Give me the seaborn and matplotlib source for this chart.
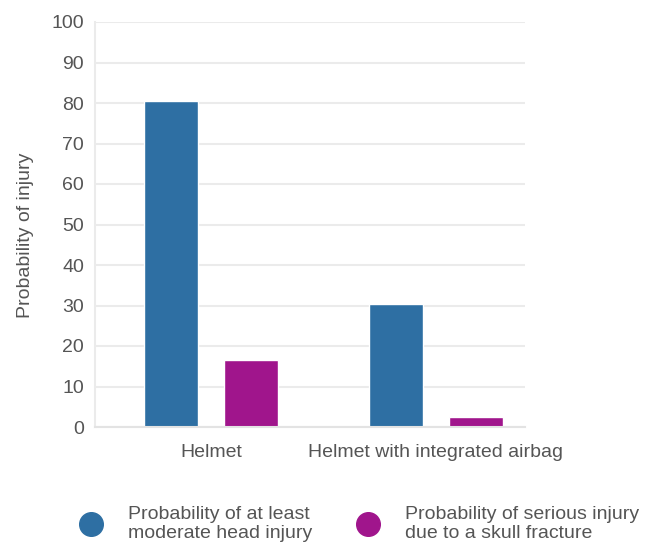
import matplotlib
matplotlib.use("Agg")
import matplotlib.pyplot as plt
from matplotlib.lines import Line2D
import seaborn as sns
import pandas as pd

categories = ["Helmet", "Helmet with integrated airbag"]
series_names = ["Probability of at least\nmoderate head injury",
                "Probability of serious injury\ndue to a skull fracture"]
moderate_head = [80.5, 30.4]
skull_fracture = [16.5, 2.5]
colors = ["#2E6FA3", "#A0158C"]

df = pd.DataFrame({
    "category": categories * 2,
    "series": [series_names[0]] * 2 + [series_names[1]] * 2,
    "value": moderate_head + skull_fracture,
})

sns.set_style("white")
plt.rcParams["font.family"] = ["Liberation Sans", "DejaVu Sans"]
text_color = "#555555"

fig = plt.figure(figsize=(6.51, 5.44), dpi=100)
ax = fig.add_axes([95 / 651, 1 - 427 / 544, 430 / 651, 405 / 544])

sns.barplot(data=df, x="category", y="value", hue="series",
            palette=colors, width=0.711, gap=0.325, saturation=1,
            legend=False, ax=ax)

ax.set_xlim(-0.516, 1.396)
ax.set_ylim(0, 100)
ax.set_yticks(range(0, 101, 10))
ax.yaxis.grid(True, color="#ebebeb", linewidth=1.5)
ax.set_axisbelow(True)
for s in ["top", "right"]:
    ax.spines[s].set_visible(False)
ax.spines["left"].set_color("#ebebeb")
ax.spines["left"].set_linewidth(1.5)
ax.spines["bottom"].set_color("#e3e3e3")
ax.spines["bottom"].set_linewidth(1.5)
ax.tick_params(axis="y", length=0, labelsize=14, colors=text_color, pad=8)
ax.tick_params(axis="x", length=0, labelsize=14, colors=text_color, pad=12)
ax.set_xlabel("")
ax.set_ylabel("Probability of injury", fontsize=14, color=text_color)
ax.yaxis.set_label_coords(-0.141, 0.474)

for i, name in enumerate(series_names):
    h = Line2D([], [], marker="o", linestyle="none", markersize=17,
               markerfacecolor=colors[i], markeredgecolor=colors[i])
    x0 = [72, 349][i] / 651
    leg = fig.legend([h], [name], loc="center left", bbox_to_anchor=(x0, 1 - 524 / 544),
                     frameon=False, fontsize=14, labelcolor=text_color,
                     handletextpad=0.9, borderpad=0, borderaxespad=0)
    leg.get_texts()[0].set_linespacing(1.1)

fig.savefig("out.png", dpi=100)
